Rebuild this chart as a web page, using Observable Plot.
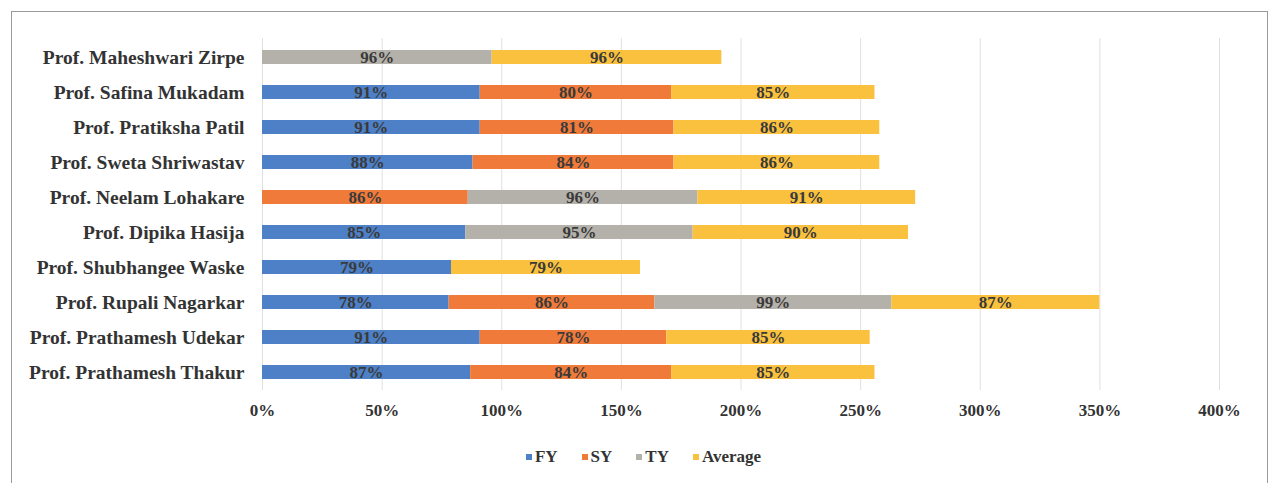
<!DOCTYPE html>
<html>
<head>
<meta charset="utf-8">
<script src="https://cdn.jsdelivr.net/npm/d3@7"></script>
<script src="https://cdn.jsdelivr.net/npm/@observablehq/plot@0.6"></script>
<style>
  html, body { margin: 0; padding: 0; background: #fff; overflow: hidden; }
  #wrap { position: relative; width: 1273px; height: 483px; overflow: hidden; }
  #frame { position: absolute; left: 11px; top: 11px; width: 1257px; height: 520px; border: 1.5px solid #9a9a9a; box-sizing: border-box; }
  #chart { position: absolute; left: 0; top: 0; }
  #legend { position: absolute; left: 0; top: 447px; width: 1273px; display: flex; justify-content: center; gap: 24px;
    font-family: 'Liberation Serif', serif; font-weight: bold; font-size: 17px; color: #333; padding-left: 14px; box-sizing: border-box; }
  #legend span.item { display: inline-flex; align-items: center; gap: 3px; }
  #legend span.sw { display: inline-block; width: 6px; height: 6px; }
</style>
</head>
<body>
<div id="wrap">
  <div id="frame"></div>
  <div id="chart"></div>
  <div id="legend"></div>
</div>
<script>
const names = [
  "Prof. Maheshwari Zirpe",
  "Prof. Safina Mukadam",
  "Prof. Pratiksha Patil",
  "Prof. Sweta Shriwastav",
  "Prof. Neelam Lohakare",
  "Prof. Dipika Hasija",
  "Prof. Shubhangee Waske",
  "Prof. Rupali Nagarkar",
  "Prof. Prathamesh Udekar",
  "Prof. Prathamesh Thakur"
];
const FY  = [null, 91, 91, 88, null, 85, 79, 78, 91, 87];
const SY  = [null, 80, 81, 84, 86, null, null, 86, 78, 84];
const TY  = [96, null, null, null, 96, 95, null, 99, null, null];
const AVG = [96, 85, 86, 86, 91, 90, 79, 87, 85, 85];
const seriesNames = ["FY", "SY", "TY", "Average"];
const seriesValues = [FY, SY, TY, AVG];
const seriesColors = ["#4d80c7", "#f07a3a", "#b4b1aa", "#f9c13e"];
const xTicks = [0, 50, 100, 150, 200, 250, 300, 350, 400];

const rows = [];
names.forEach((n, i) => {
  seriesNames.forEach((s, j) => {
    const v = seriesValues[j][i];
    if (v != null) rows.push({name: n, series: s, value: v});
  });
});

const chart = Plot.plot({
  width: 1273,
  height: 432,
  marginLeft: 262,
  marginRight: 54,
  marginTop: 38,
  marginBottom: 42,
  style: {fontFamily: "'Liberation Serif', serif", fontWeight: "bold", fontSize: "17px", color: "#333", background: "transparent"},
  x: {domain: [0, 400], ticks: xTicks, tickFormat: d => d + "%", label: null},
  y: {domain: names, paddingInner: 0.6, paddingOuter: 0.3, label: null},
  color: {domain: seriesNames, range: seriesColors},
  marks: [
    Plot.gridX(xTicks, {stroke: "#e0e0e0", strokeOpacity: 1, strokeWidth: 1}),
    Plot.barX(rows, Plot.stackX({x: "value", y: "name", z: "series", fill: "series"})),
    Plot.text(rows, Plot.stackX({x: "value", y: "name", z: "series", text: d => d.value + "%",
      fill: "#3a3a3a", fontSize: 17, fontWeight: "bold", fontFamily: "'Liberation Serif', serif"})),
    Plot.axisX({ticks: xTicks, tickFormat: d => d + "%", tickSize: 0, tickPadding: 13, label: null, fontSize: 17}),
    Plot.axisY({tickSize: 0, tickPadding: 18, label: null, fontSize: 19.5})
  ]
});
document.getElementById("chart").appendChild(chart);

const legend = document.getElementById("legend");
seriesNames.forEach((s, j) => {
  const item = document.createElement("span");
  item.className = "item";
  const sw = document.createElement("span");
  sw.className = "sw";
  sw.style.background = seriesColors[j];
  item.appendChild(sw);
  item.appendChild(document.createTextNode(s));
  legend.appendChild(item);
});
</script>
</body>
</html>
